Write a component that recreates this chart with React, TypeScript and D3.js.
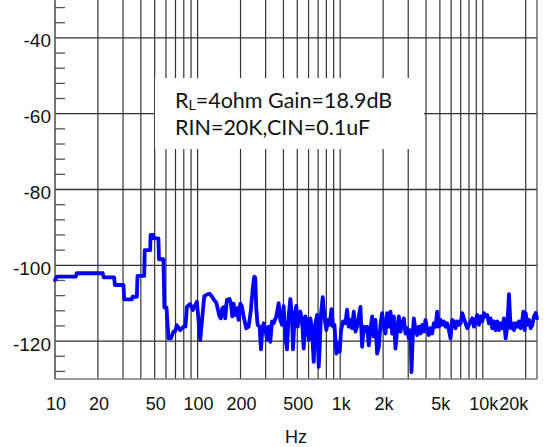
import React from 'react';
import * as d3 from 'd3';

// Noise spectrum, frequency (Hz) and level (dBV)
const freqHz = [
  10, 10.3, 14.0, 14.2, 21.6, 22.0, 26.0, 26.3, 30.2, 30.6, 34.6, 35.0, 37.5, 37.9, 42.2, 42.6,
  46.5, 46.8, 49.0, 49.5, 53.1, 53.6, 57.6, 58.5, 60.5, 62.5, 65.0, 67.7, 69.5, 71.5, 73.5, 75.5,
  79.6, 82.2, 84.1, 88.7, 92.7, 98.9, 104.3,
  111.3, 116.2, 121.3, 126.0, 130.8, 135.1, 140.3, 142.6, 145.7, 148.9, 153.8, 156.3, 160.6, 167.6,
  171.3, 175.0, 178.8, 183.7, 188.7, 193.9, 199.2, 204.6, 210.2, 219.4, 227.9, 236.6, 244.4, 249.7,
  253.8, 257.9, 263.5, 272.2, 278.2, 284.2, 290.4, 298.3, 306.4, 314.8, 323.4, 332.3, 341.4, 356.5,
  370.2, 380.3, 390.7, 401.3, 412.3, 423.6, 435.2, 447.1, 459.2, 466.7, 479.4, 492.5, 503.3, 517.0,
  525.5, 539.8, 554.6, 569.8, 585.4, 601.4, 617.8, 634.7, 652.1, 669.9, 688.3, 707.1, 718.5, 734.2,
  754.3, 774.9, 800.4, 817.8, 844.7, 867.8, 891.4, 910.8, 940.7, 961.2, 992.7, 1014, 1047, 1088,
  1117, 1148, 1179, 1212, 1245, 1279, 1314, 1350, 1387, 1424, 1463, 1503, 1545, 1587, 1630, 1675,
  1720, 1767, 1816, 1865, 1916, 1968, 2022, 2077, 2134, 2192, 2253, 2314, 2377, 2442, 2509, 2577,
  2648, 2720, 2794, 2870, 2949, 3029, 3112, 3162, 3232, 3284, 3374, 3466, 3561, 3658, 3758, 3861,
  3966, 4074, 4186, 4300, 4417, 4538, 4662, 4790, 4920, 5055, 5193, 5335, 5481, 5630, 5784, 5942,
  6104, 6271, 6442, 6618, 6799, 6985, 7175, 7371, 7573, 7779, 7992, 8210, 8436, 8666, 8903, 9146,
  9396, 9652, 9916, 10187, 10465, 10751, 11045, 11346, 11656, 11975, 12302, 12638, 12983, 13337,
  13702, 14076, 14460, 14855, 15264, 15681, 16110, 16550, 17002, 17467, 17944, 18434, 18938, 19246,
  19666, 19986, 20531, 21090, 21666, 22259, 22866, 23490, 24000,
];
const levelDb = [
  -103.9, -103.0, -103.0, -102.1, -102.1, -103.2, -103.2, -105.2, -105.2, -109.0, -109.0, -108.3,
  -108.3, -102.8, -102.8, -96.0, -96.0, -92.0, -92.0, -92.9, -92.9, -98.4, -98.4, -111.1, -111.1,
  -119.3, -119.3, -117.5, -117.5, -115.8, -116.5, -117.1, -116.2, -116.2, -111.0, -110.2, -111.8,
  -109.6, -119.7,
  -108.2, -107.7, -107.5, -108.2, -109.2, -109.8, -112.4, -113.5, -114.0, -111.3, -111.0, -114.0,
  -109.1, -108.9, -110.0, -113.5, -110.1, -113.1, -111.3, -114.4, -110.1, -110.8, -113.5, -116.6,
  -116.2, -111.7, -105.5, -103.0, -103.3, -111.3, -115.7, -116.2, -122.2, -117.1, -115.3, -116.6,
  -119.6, -116.2, -120.2, -114.8, -115.3, -113.5, -110.0, -114.4, -115.7, -110.8, -118.8, -122.2,
  -113.5, -108.9, -113.5, -122.2, -113.5, -110.7, -116.2, -113.5, -112.2, -114.4, -122.0, -113.5,
  -114.8, -119.7, -114.0, -117.1, -125.5, -115.3, -113.1, -126.8, -121.5, -112.6, -108.4, -113.5,
  -117.1, -114.4, -115.7, -111.6, -116.2, -115.7, -123.3, -120.6, -122.8, -117.1, -114.8, -115.3,
  -111.7, -116.2, -114.4, -116.6, -112.2, -117.5, -116.2, -113.5, -111.0, -121.5, -116.2, -117.5,
  -116.2, -121.1, -117.1, -113.5, -118.8, -114.4, -123.3, -121.5, -115.7, -112.6, -116.2, -118.0,
  -112.6, -116.2, -112.2, -118.0, -113.5, -122.0, -117.1, -113.5, -117.5, -115.3, -114.0, -118.0,
  -116.6, -119.3, -117.1, -128.2, -118.0, -114.0, -117.1, -118.4, -116.2, -118.0, -115.7, -117.5,
  -114.4, -117.1, -118.4, -116.6, -118.0, -115.3, -116.2, -112.2, -116.2, -114.4, -115.7, -114.8,
  -116.2, -115.3, -117.1, -119.3, -114.4, -114.8, -116.6, -114.8, -115.7, -115.3, -112.6, -114.0,
  -115.3, -116.6, -115.7, -114.8, -114.0, -116.2, -114.4, -113.1, -115.7, -113.5, -114.8, -112.6,
  -113.5, -113.1, -115.3, -114.0, -116.6, -114.8, -117.1, -114.8, -117.1, -115.3, -116.6, -114.0,
  -119.3, -116.2, -107.6, -116.6, -115.3, -117.1, -115.3, -116.2, -114.8, -116.6, -114.4, -112.2,
  -117.1, -112.6, -115.7, -114.4, -116.6, -115.7, -113.5, -112.6, -114.0,
];

const yMajorTicks = [-40, -60, -80, -100, -120];
const xTickValues = [10, 20, 50, 100, 200, 500, 1000, 2000, 5000, 10000, 20000];
const xTickLabels = ['10', '20', '50', '100', '200', '500', '1k', '2k', '5k', '10k', '20k'];
const noteLine1Main = 'R';
const noteLine1Sub = 'L';
const noteLine1Rest = '=4ohm Gain=18.9dB';
const noteLine2 = 'RIN=20K,CIN=0.1uF';
const xAxisTitle = 'Hz';

const W = 544;
const H = 447;

export default function App() {
  const x = d3.scaleLog().domain([10, 24000]).range([55, 537]);
  const y = d3.scaleLinear().domain([-130, -30]).range([379, 0]);

  const gridFreqs: number[] = [];
  [10, 100, 1000, 10000].forEach((d) => {
    for (let m = 1; m <= 9; m++) {
      const f = d * m;
      if (f > 10 && f < 24000) gridFreqs.push(f);
    }
  });
  const minorY = d3.range(-128, -30, 4).filter((v) => v % 20 !== 0);

  const pts = freqHz.map((f, i) => [f, levelDb[i]] as [number, number]);
  const line = d3
    .line<[number, number]>()
    .x((d) => x(d[0]))
    .y((d) => y(d[1]));

  const labelFont = '"Liberation Sans", Arial, sans-serif';
  const noteFont = 'Lato, "Open Sans", sans-serif';

  return (
    <svg
      width={W}
      height={H}
      style={{ position: 'absolute', left: 0, top: 0, background: '#fff' }}
    >
      <rect x={0} y={0} width={W} height={H} fill="#fff" />
      {/* vertical grid */}
      {gridFreqs.map((f) => (
        <line key={'vg' + f} x1={x(f)} x2={x(f)} y1={0} y2={379} stroke="#333" strokeWidth={1.2} />
      ))}
      {/* horizontal grid */}
      {yMajorTicks.map((v) => (
        <line key={'hg' + v} x1={55} x2={537} y1={y(v)} y2={y(v)} stroke="#333" strokeWidth={1.3} />
      ))}
      {/* minor y ticks */}
      {minorY.map((v) => (
        <line key={'my' + v} x1={55} x2={65} y1={y(v)} y2={y(v)} stroke="#555" strokeWidth={1.3} />
      ))}
      {/* frame */}
      <line x1={55} x2={55} y1={0} y2={379} stroke="#555" strokeWidth={1.6} />
      <line x1={537} x2={537} y1={0} y2={379} stroke="#555" strokeWidth={1.3} />
      <line x1={55} x2={537} y1={379} y2={379} stroke="#777" strokeWidth={1.5} />

      {/* annotation box */}
      <rect x={155} y={78} width={269} height={71} fill="#fff" />
      <text x={175} y={108} fontFamily={noteFont} fontSize={21.5} fill="#111">
        {noteLine1Main}
        <tspan fontSize={14} dy={2}>{noteLine1Sub}</tspan>
        <tspan dy={-2}>{noteLine1Rest}</tspan>
      </text>
      <text x={175} y={135} fontFamily={noteFont} fontSize={21.5} fill="#111">
        {noteLine2}
      </text>

      {/* data */}
      <path
        d={line(pts) || ''}
        fill="none"
        stroke="#0000ff"
        strokeWidth={3.8}
        strokeLinejoin="round"
        strokeLinecap="round"
      />

      {/* y labels */}
      {yMajorTicks.map((v) => (
        <text
          key={'yl' + v}
          x={51}
          y={y(v) + 9.5}
          textAnchor="end"
          fontFamily={labelFont}
          fontSize={19}
          fill="#111"
        >
          {v}
        </text>
      ))}
      {/* x labels */}
      {xTickValues.map((v, i) => (
        <text
          key={'xl' + v}
          x={x(v) + 1 - (v === 20000 ? 13 : 0)}
          y={410}
          textAnchor="middle"
          fontFamily={labelFont}
          fontSize={18}
          fill="#111"
        >
          {xTickLabels[i]}
        </text>
      ))}
      <text x={296} y={443} textAnchor="middle" fontFamily={labelFont} fontSize={18} fill="#111">
        {xAxisTitle}
      </text>
    </svg>
  );
}
